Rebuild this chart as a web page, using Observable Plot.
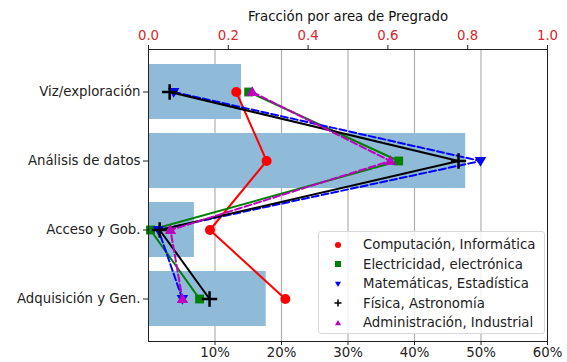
<!DOCTYPE html>
<html>
<head>
<meta charset="utf-8">
<script src="https://cdn.jsdelivr.net/npm/d3@7"></script>
<script src="https://cdn.jsdelivr.net/npm/@observablehq/plot@0.6"></script>
<style>
  body { margin: 0; background: #fff; font-family: "DejaVu Sans", sans-serif; }
  #wrap { position: relative; width: 567px; height: 362px; }
  #legend {
    position: absolute; left: 318px; top: 231px; width: 227px; height: 103px;
    box-sizing: border-box; background: rgba(255,255,255,0.8);
    border: 1px solid #d8d8d8; border-radius: 3px; padding: 3px 0 0 0;
    font-size: 13.3px; color: #222;
  }
  .row { display: flex; align-items: center; height: 19.5px; }
  .row svg { margin-left: 14px; margin-right: 20px; }
</style>
</head>
<body>
<div id="wrap"></div>
<script>
// ---- data ----
const categories = ["Viz/exploración", "Análisis de datos", "Acceso y Gob.", "Adquisición y Gen."];
const barShare = [0.14, 0.477, 0.069, 0.177];           // bottom axis (%)
const seriesNames = ["Computación, Informática", "Electricidad, electrónica", "Matemáticas, Estadística", "Física, Astronomía", "Administración, Industrial"];
const computacion = [0.22, 0.296, 0.154, 0.343];         // top axis (fraction)
const electricidad = [0.251, 0.627, 0.005, 0.128];
const matematicas = [0.063, 0.832, 0.025, 0.085];
const fisica = [0.053, 0.777, 0.028, 0.153];
const administracion = [0.26, 0.606, 0.055, 0.085];
const bottomTicks = [0.1, 0.2, 0.3, 0.4, 0.5, 0.6];
const topTicks = [0, 0.2, 0.4, 0.6, 0.8, 1.0];
const gridTicks = [0.1, 0.2, 0.3, 0.4, 0.5];

const xMax = 0.6; // bottom scale max; top fraction scale 0..1 maps onto it
const FS = 13.3;

const triangleDown = {
  draw(context, size) {
    const r = Math.sqrt(size / Math.PI) * 1.15;
    context.moveTo(-r, -r * 0.7);
    context.lineTo(r, -r * 0.7);
    context.lineTo(0, r * 1.0);
    context.closePath();
  }
};
const triangleUp = {
  draw(context, size) {
    const r = Math.sqrt(size / Math.PI) * 1.15;
    context.moveTo(-r, r * 0.7);
    context.lineTo(r, r * 0.7);
    context.lineTo(0, -r * 1.0);
    context.closePath();
  }
};

const styles = [
  {values: computacion, color: "#ff0000", symbol: "circle", dash: null, r: 5},
  {values: electricidad, color: "#008000", symbol: "square", dash: null, r: 5},
  {values: matematicas, color: "#0000ff", symbol: triangleDown, dash: "7,3", r: 5},
  {values: fisica, color: "#000000", symbol: "plus", dash: null, r: 5},
  {values: administracion, color: "#bf00bf", symbol: triangleUp, dash: "7,3", r: 5}
];

const bars = categories.map((c, i) => ({category: c, value: barShare[i]}));

const lineMarks = [];
styles.forEach((s, k) => {
  const data = categories.map((c, i) => ({category: c, frac: s.values[i], series: seriesNames[k]}));
  lineMarks.push(Plot.line(data, {
    x: d => d.frac * xMax, y: "category", stroke: s.color, strokeWidth: 2,
    strokeDasharray: s.dash
  }));
  if (s.symbol === "plus") {
    lineMarks.push(Plot.dot(data, {x: d => d.frac * xMax, y: "category", symbol: "plus", r: s.r, stroke: s.color, strokeWidth: 2.5}));
  } else {
    lineMarks.push(Plot.dot(data, {x: d => d.frac * xMax, y: "category", symbol: s.symbol, r: s.r, fill: s.color, stroke: "none"}));
  }
});

const chart = Plot.plot({
  width: 567,
  height: 362,
  marginTop: 49,
  marginBottom: 21,
  marginLeft: 148,
  marginRight: 20,
  style: {fontFamily: "DejaVu Sans, sans-serif", fontSize: FS + "px", color: "#222", background: "#fff"},
  x: {domain: [0, xMax], axis: null},
  y: {domain: categories, paddingInner: 0.2, paddingOuter: 0.19, axis: null},
  marks: [
    Plot.gridX(gridTicks, {stroke: "#b0b0b0", strokeOpacity: 1, strokeWidth: 1.2}),
    Plot.barX(bars, {x: "value", y: "category", fill: "#8fbbd9"}),
    ...lineMarks,
    Plot.frame({stroke: "#222", strokeWidth: 1}),
    Plot.axisX({anchor: "bottom", ticks: bottomTicks, tickFormat: d3.format(".0%"), tickSize: 4, tickPadding: 2, fontSize: FS, label: null}),
    Plot.axisX({anchor: "top", ticks: topTicks.map(t => t * xMax), tickFormat: () => "", tickSize: 5, label: null}),
    Plot.axisX({anchor: "top", ticks: topTicks.map(t => t * xMax), tickFormat: d => (d / xMax).toFixed(1), tickSize: 0, tickPadding: 10, fontSize: FS, color: "#d62728", label: null}),
    Plot.axisY({anchor: "left", tickSize: 5, tickPadding: 3, fontSize: FS, label: null}),
    Plot.text(["Fracción por area de Pregrado"], {frameAnchor: "top", dy: -38, fontSize: FS, fill: "#111"})
  ]
});
document.getElementById("wrap").appendChild(chart);

// ---- legend ----
const legend = document.createElement("div");
legend.id = "legend";
styles.forEach((s, k) => {
  const row = document.createElement("div");
  row.className = "row";
  const sym = d3.create("svg").attr("width", 10).attr("height", 10);
  const g = sym.append("g").attr("transform", "translate(5,5)");
  if (s.symbol === "circle") g.append("circle").attr("r", 3).attr("fill", s.color);
  else if (s.symbol === "square") g.append("rect").attr("x", -3).attr("y", -3).attr("width", 6).attr("height", 6).attr("fill", s.color);
  else if (s.symbol === "plus") g.append("path").attr("d", "M-3.5,0H3.5M0,-3.5V3.5").attr("stroke", s.color).attr("stroke-width", 1.5);
  else g.append("path").attr("d", d3.symbol(s.symbol, 22)()).attr("fill", s.color);
  row.appendChild(sym.node());
  const t = document.createElement("span");
  t.textContent = seriesNames[k];
  row.appendChild(t);
  legend.appendChild(row);
});
document.getElementById("wrap").appendChild(legend);
</script>
</body>
</html>
